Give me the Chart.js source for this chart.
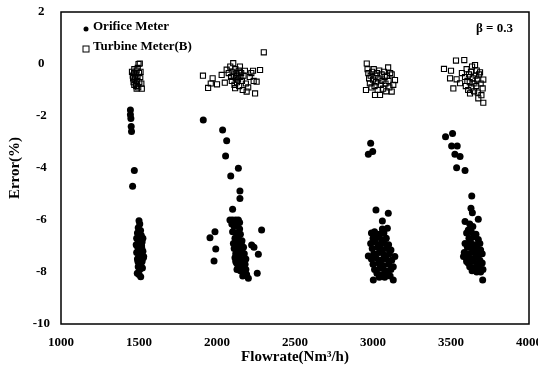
<!DOCTYPE html>
<html>
<head>
<meta charset="utf-8">
<script src="https://cdn.jsdelivr.net/npm/chart.js@4/dist/chart.umd.min.js"></script>
<style>
  body { margin: 0; background: #fff; }
</style>
</head>
<body>
<canvas id="graf" width="538" height="370"></canvas>
<script>
// Orifice meter readings [flowrate, error %] per flow group
const orifice1500 = [
  [1445,-1.77],[1445,-1.95],[1448,-2.1],[1450,-2.4],[1452,-2.6],[1470,-4.1],[1459,-4.7],
  [1500,-6.03],[1505,-6.15],[1495,-6.3],[1510,-6.4],[1490,-6.5],[1502,-6.55],[1515,-6.6],
  [1485,-6.7],[1498,-6.75],[1508,-6.8],[1520,-6.85],[1492,-6.9],[1512,-6.95],[1488,-7.0],
  [1503,-7.05],[1518,-7.1],[1495,-7.15],[1525,-7.2],[1485,-7.25],[1507,-7.3],[1515,-7.35],
  [1498,-7.4],[1528,-7.45],[1490,-7.5],[1510,-7.55],[1520,-7.6],[1500,-7.65],[1530,-7.4],
  [1512,-7.75],[1495,-7.8],[1522,-7.85],[1505,-7.9],[1489,-8.05],[1511,-8.18],[1500,-8.1],
  [1517,-7.0],[1482,-6.95],[1525,-6.7],[1493,-7.6],[1508,-7.2]
]
const orifice2000 = [
  [1912,-2.15],[2036,-2.54],[2062,-2.95],[2055,-3.54],[2137,-4.01],[2088,-4.31],[2147,-4.88],
  [2147,-5.17],[2100,-5.59],[1987,-6.45],[1955,-6.68],[1992,-7.12],[1981,-7.58],[2286,-6.38],
  [2258,-8.05],[2265,-7.32],[2237,-7.05],[2222,-6.96],
  [2083,-6.0],[2100,-6.0],[2120,-6.0],[2137,-6.0],[2095,-6.15],[2110,-6.25],[2130,-6.2],
  [2145,-6.35],[2100,-6.45],[2125,-6.5],[2150,-6.55],[2115,-6.7],[2140,-6.75],[2160,-6.8],
  [2105,-6.9],[2130,-6.95],[2150,-7.0],[2170,-7.05],[2110,-7.1],[2135,-7.15],[2160,-7.2],
  [2120,-7.3],[2145,-7.35],[2175,-7.3],[2115,-7.45],[2140,-7.5],[2165,-7.55],[2125,-7.65],
  [2150,-7.7],[2180,-7.7],[2135,-7.8],[2160,-7.85],[2185,-7.9],[2150,-7.95],[2175,-8.0],
  [2190,-8.1],[2201,-8.24],[2165,-8.15],[2120,-7.6],[2155,-6.9],[2145,-6.1],[2128,-7.9],
  [2185,-7.5]
]
const orifice3000 = [
  [2985,-3.05],[2998,-3.37],[2970,-3.47],[3019,-5.62],[3098,-5.74],[3060,-6.04],[3092,-6.32],
  [2970,-7.38],[3002,-8.31],[3130,-8.31],
  [2990,-6.5],[3010,-6.45],[3040,-6.55],[3070,-6.5],[3000,-6.7],[3025,-6.65],[3055,-6.75],
  [3085,-6.7],[2985,-6.9],[3015,-6.85],[3045,-6.95],[3075,-6.9],[3100,-6.95],[2995,-7.1],
  [3030,-7.05],[3060,-7.15],[3090,-7.1],[3115,-7.15],[3005,-7.3],[3040,-7.25],[3070,-7.35],
  [3105,-7.3],[2990,-7.5],[3020,-7.45],[3050,-7.55],[3085,-7.5],[3120,-7.55],[3000,-7.7],
  [3035,-7.65],[3065,-7.75],[3100,-7.7],[3130,-7.8],[3010,-7.9],[3045,-7.85],[3080,-7.95],
  [3115,-7.9],[3025,-8.05],[3060,-8.1],[3095,-8.1],[3040,-8.2],[3075,-8.2],[3110,-8.15],
  [3060,-6.35],[3140,-7.4]
]
const orifice3500 = [
  [3465,-2.8],[3510,-2.67],[3504,-3.15],[3540,-3.15],[3525,-3.47],[3558,-3.56],[3536,-3.99],
  [3590,-4.1],[3633,-5.08],[3628,-5.55],[3637,-5.72],[3590,-6.06],[3675,-5.97],[3611,-6.38],
  [3640,-6.25],[3620,-6.15],[3703,-8.31],
  [3600,-6.5],[3630,-6.45],[3660,-6.55],[3615,-6.7],[3645,-6.65],[3675,-6.75],[3590,-6.9],
  [3625,-6.85],[3655,-6.95],[3685,-6.9],[3605,-7.05],[3635,-7.1],[3665,-7.05],[3690,-7.15],
  [3585,-7.25],[3615,-7.3],[3645,-7.25],[3675,-7.35],[3700,-7.3],[3595,-7.45],[3625,-7.5],
  [3655,-7.45],[3685,-7.55],[3610,-7.65],[3640,-7.6],[3670,-7.7],[3700,-7.65],[3620,-7.8],
  [3650,-7.85],[3680,-7.8],[3705,-7.9],[3635,-7.95],[3665,-8.0],[3690,-8.0],[3600,-7.6],
  [3660,-7.2],[3630,-6.95],[3675,-7.95],[3580,-7.4]
]

// Turbine meter (B) readings
const turbine1500 = [
  [1455,-0.3],[1460,-0.45],[1462,-0.55],[1465,-0.7],[1468,-0.35],[1470,-0.8],[1472,-0.6],
  [1475,-0.5],[1478,-0.4],[1480,-0.75],[1482,-0.85],[1485,-0.25],[1488,-0.65],[1490,-0.5],
  [1492,-0.15],[1495,-0.9],[1497,0.0],[1500,-0.35],[1502,-0.7],[1505,0.02],[1508,-0.5],
  [1510,-0.3],[1515,-0.75],[1518,-0.95],[1470,-0.2],[1485,-0.95]
]
const turbine2000 = [
  [1910,-0.45],[1943,-0.92],[1960,-0.75],[1972,-0.55],[2000,-0.78],[2030,-0.42],[2050,-0.72],
  [2062,-0.22],[2075,-0.35],[2085,-0.1],[2090,-0.5],[2095,-0.65],[2100,-0.3],[2104,0.03],
  [2108,-0.45],[2112,-0.8],[2116,-0.93],[2118,-0.2],[2120,-0.55],[2125,-0.35],[2128,-0.7],
  [2130,-0.45],[2135,-0.6],[2140,-0.25],[2142,-0.85],[2147,-0.1],[2150,-0.5],[2155,-0.35],
  [2160,-0.65],[2165,-1.0],[2170,-0.45],[2179,-0.26],[2185,-0.75],[2190,-1.06],[2200,-0.9],
  [2210,-0.5],[2220,-0.35],[2231,-0.26],[2235,-0.65],[2244,-1.13],[2254,-0.68],[2276,-0.23],
  [2300,0.45]
]
const turbine3000 = [
  [2960,0.02],[2965,-0.2],[2970,-0.35],[2975,-0.55],[2955,-1.0],[2980,-0.75],[2985,-0.45],
  [2990,-0.9],[2995,-0.3],[3000,-0.6],[3005,-0.2],[3010,-0.85],[3013,-1.19],[3015,-0.45],
  [3020,-0.7],[3025,-0.35],[3030,-1.0],[3035,-0.55],[3040,-0.25],[3045,-1.19],[3050,-0.8],
  [3055,-0.4],[3060,-0.65],[3065,-0.95],[3070,-0.3],[3075,-0.5],[3080,-0.75],[3085,-1.05],
  [3090,-0.45],[3097,-0.13],[3100,-0.65],[3105,-0.9],[3110,-0.35],[3120,-0.4],[3120,-1.06],
  [3130,-0.8],[3141,-0.62]
]
const turbine3500 = [
  [3455,-0.19],[3500,-0.26],[3494,-0.55],[3515,-0.94],[3532,0.13],[3536,-0.59],[3558,-0.74],
  [3570,-0.35],[3585,0.15],[3590,-0.5],[3595,-0.85],[3600,-0.2],[3605,-0.65],[3610,-1.0],
  [3615,-0.4],[3620,-0.7],[3622,-1.13],[3628,-0.3],[3632,-0.9],[3635,-0.1],[3640,-0.55],
  [3645,-0.75],[3648,-1.05],[3654,-0.04],[3658,-0.45],[3662,-0.85],[3665,-0.25],[3668,-0.6],
  [3672,-1.1],[3675,-1.32],[3680,-0.4],[3686,-0.32],[3690,-0.75],[3695,-1.2],[3703,-0.94],
  [3707,-0.6],[3707,-1.49]
]

const xTicks = [1000, 1500, 2000, 2500, 3000, 3500, 4000]
const yTicks = [2, 0, -2, -4, -6, -8, -10]
const betaLabel = 'β = 0.3'

const serif = '"Liberation Serif", "Times New Roman", serif'

// caixa do gráfico + legenda dentro da área
const frame = {
  id: 'frame',
  afterDatasetsDraw(chart) {
    const { ctx, chartArea: a } = chart
    ctx.save()
    ctx.strokeStyle = '#000'
    ctx.lineWidth = 1.5
    ctx.strokeRect(a.left, a.top, a.right - a.left, a.bottom - a.top)

    ctx.font = 'bold 13px ' + serif
    ctx.fillStyle = '#000'
    ctx.textBaseline = 'middle'
    chart.data.datasets.forEach((ds, i) => {
      const mx = a.left + 25
      const my = a.top + 17 + i * 20
      ctx.lineWidth = 1
      if (ds.pointStyle === 'rect') {
        ctx.strokeRect(mx - 3, my - 3, 6, 6)
      } else {
        ctx.beginPath()
        ctx.arc(mx, my, 2.5, 0, Math.PI * 2)
        ctx.fill()
      }
      ctx.fillText(ds.label, a.left + 32, my - 2)
    })
    ctx.textAlign = 'right'
    ctx.fillText(betaLabel, a.right - 16, a.top + 17)
    ctx.restore()
  }
}

const ctx = document.getElementById('graf').getContext('2d')

const config = {
  type: 'scatter',
  data: {
    datasets: [{
      label: 'Orifice Meter',
      data: [...orifice1500, ...orifice2000, ...orifice3000, ...orifice3500],
      pointStyle: 'circle',
      pointRadius: 3.5,
      backgroundColor: '#000',
      borderColor: '#000',
      borderWidth: 0
    }, {
      label: 'Turbine Meter(B)',
      data: [...turbine1500, ...turbine2000, ...turbine3000, ...turbine3500],
      pointStyle: 'rect',
      pointRadius: 3.6,
      backgroundColor: 'rgba(255,255,255,0)',
      borderColor: '#000',
      borderWidth: 1.1
    }]
  },
  options: {
    responsive: false,
    animation: false,
    devicePixelRatio: 1,
    layout: { padding: { top: 12, right: 9, left: 0, bottom: 0 } },
    plugins: {
      legend: { display: false },
      tooltip: { enabled: false }
    },
    scales: {
      x: {
        type: 'linear',
        min: 1000,
        max: 4000,
        afterBuildTicks: s => { s.ticks = xTicks.map(v => ({ value: v })) },
        afterFit: s => { s.height = 46; s.paddingLeft = 0; s.paddingRight = 0 },
        grid: { display: false },
        border: { display: false },
        ticks: {
          color: '#000',
          padding: 3,
          maxRotation: 0,
          autoSkip: false,
          callback: v => String(v),
          font: { family: serif, size: 13, weight: 'bold' }
        },
        title: {
          display: true,
          text: 'Flowrate(Nm³/h)',
          color: '#000',
          padding: { top: 0, bottom: 4 },
          font: { family: serif, size: 15, weight: 'bold' }
        }
      },
      y: {
        min: -10,
        max: 2,
        afterBuildTicks: s => { s.ticks = yTicks.map(v => ({ value: v })) },
        afterFit: s => { s.width = 61; s.paddingTop = 0; s.paddingBottom = 0 },
        grid: { display: false },
        border: { display: false },
        ticks: {
          color: '#000',
          padding: 3,
          crossAlign: 'center',
          callback: v => String(v),
          font: { family: serif, size: 13, weight: 'bold' }
        },
        title: {
          display: true,
          text: 'Error(%)',
          color: '#000',
          padding: { top: 6, bottom: 0 },
          font: { family: serif, size: 15, weight: 'bold' }
        }
      }
    }
  },
  plugins: [frame]
}

const grafic = new Chart(ctx, config)
</script>
</body>
</html>
